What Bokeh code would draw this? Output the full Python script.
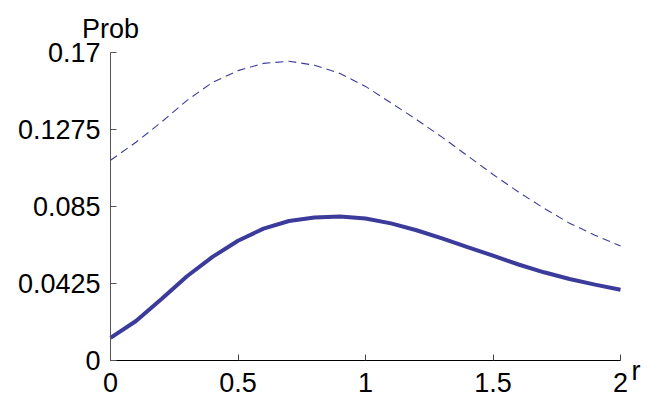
from bokeh.plotting import figure
from bokeh.models import Range1d, FixedTicker
from bokeh.core.properties import value
from bokeh.embed import file_html
from bokeh.resources import INLINE

r = [0.0, 0.1, 0.2, 0.3, 0.4, 0.5, 0.6, 0.7, 0.8, 0.9, 1.0,
     1.1, 1.2, 1.3, 1.4, 1.5, 1.6, 1.7, 1.8, 1.9, 2.0]
prob_dashed = [0.1105, 0.1205, 0.1316, 0.1436, 0.1535, 0.1600, 0.1640, 0.1652,
               0.1630, 0.1584, 0.1513, 0.1422, 0.1330, 0.1233, 0.1130, 0.1027,
               0.0930, 0.0840, 0.0758, 0.0692, 0.0632]
prob_solid = [0.0125, 0.0218, 0.0340, 0.0465, 0.0572, 0.0661, 0.0728, 0.0770,
              0.0789, 0.0795, 0.0784, 0.0757, 0.0719, 0.0674, 0.0626, 0.0579,
              0.0530, 0.0487, 0.0450, 0.0419, 0.0391]

x_ticks = [0, 0.5, 1, 1.5, 2]
x_tick_labels = ["0", "0.5", "1", "1.5", "2"]
y_ticks = [0, 0.0425, 0.085, 0.1275, 0.17]
y_tick_labels = ["0", "0.0425", "0.085", "0.1275", "0.17"]
x_label = "r"
y_label = "Prob"

FONT = "Liberation Sans"
FS = "27px"
COLOR = "#3b3b9b"

# The frame fills the whole figure; both axes are pinned at zero and bounded
# to the data span, so all labels are drawn inside the frame.
p = figure(width=644, height=397, output_backend="svg", toolbar_location=None,
           x_range=Range1d(-0.4314, 2.0941), y_range=Range1d(-0.0204, 0.1987),
           min_border=0, min_border_left=0, min_border_right=0,
           min_border_top=0, min_border_bottom=0)
p.outline_line_color = None
p.xgrid.grid_line_color = None
p.ygrid.grid_line_color = None
p.background_fill_color = "white"
p.border_fill_color = "white"

p.line(r, prob_dashed, line_color=COLOR, line_width=1.1, line_dash="8 5")
p.line(r, prob_solid, line_color=COLOR, line_width=4)

xa = p.xaxis[0]
xa.fixed_location = 0
xa.bounds = (0, 2)
xa.ticker = FixedTicker(ticks=x_ticks)
xa.major_label_overrides = {t: l for t, l in zip(x_ticks, x_tick_labels)}
xa.minor_tick_line_color = None
xa.major_tick_in = 6
xa.major_tick_out = 0
xa.major_label_standoff = 12
xa.axis_line_color = "black"
xa.major_tick_line_color = "#444444"
xa.major_label_text_font = FONT
xa.major_label_text_font_size = FS
xa.major_label_text_color = "black"

ya = p.yaxis[0]
ya.fixed_location = 0
ya.bounds = (0, 0.17)
ya.ticker = FixedTicker(ticks=y_ticks)
ya.major_label_overrides = {t: l for t, l in zip(y_ticks, y_tick_labels)}
ya.minor_tick_line_color = None
ya.major_tick_in = 6
ya.major_tick_out = 0
ya.major_label_standoff = 10
ya.axis_line_color = "#555555"
ya.major_tick_line_color = "#555555"
ya.major_label_text_font = FONT
ya.major_label_text_font_size = FS
ya.major_label_text_color = "black"

# axis names: "r" at the right end of the x axis, "Prob" above the y axis
p.text(x=[x_ticks[-1]], y=[y_ticks[0]], text=[x_label], x_offset=11, y_offset=10,
       text_align="left", text_baseline="alphabetic",
       text_font=value(FONT), text_font_size=value(FS), text_color="black")
p.text(x=[x_ticks[0]], y=[y_ticks[-1]], text=[y_label], x_offset=0, y_offset=-24,
       text_align="center", text_baseline="alphabetic",
       text_font=value(FONT), text_font_size=value(FS), text_color="black")

open("out.html", "w").write(file_html(p, INLINE))
